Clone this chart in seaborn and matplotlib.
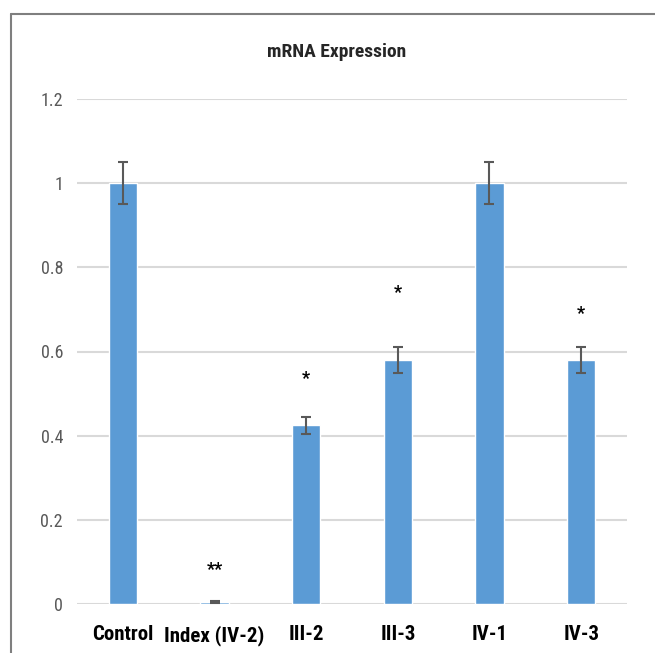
import matplotlib
matplotlib.use("Agg")
import matplotlib.pyplot as plt
from matplotlib.lines import Line2D
import seaborn as sns
import pandas as pd

categories = ["Control", "Index (IV-2)", "III-2", "III-3", "IV-1", "IV-3"]
values = [1.0, 0.005, 0.425, 0.58, 1.0, 0.58]
errors = [0.05, 0.002, 0.02, 0.03, 0.05, 0.03]
stars = ["", "**", "*", "*", "", "*"]
star_y = [None, 0.08, 0.535, 0.74, None, 0.69]
yticks = [0, 0.2, 0.4, 0.6, 0.8, 1, 1.2]
ytick_labels = ["0", "0.2", "0.4", "0.6", "0.8", "1", "1.2"]
title = "mRNA Expression"

sns.set_theme(style="white")
plt.rcParams["font.family"] = ["Roboto Condensed", "DejaVu Sans"]

df = pd.DataFrame({"cat": categories, "val": values})

fig = plt.figure(figsize=(6.55, 6.53), dpi=100)
ax = fig.add_axes([77/655, 1-604/653, 550/655, (604-99)/653])

sns.barplot(data=df, x="cat", y="val", color="#5B9BD5", saturation=1,
            width=0.31, ax=ax, errorbar=None, zorder=3)
ax.errorbar(range(len(categories)), values, yerr=errors, fmt="none",
            ecolor="#595959", elinewidth=1.5, capsize=3.3, capthick=1.5, zorder=4)

for i, (s, y) in enumerate(zip(stars, star_y)):
    if s:
        ax.text(i, y, s, ha="center", va="center", fontsize=13, fontweight="bold", color="black")

ax.set_ylim(0, 1.2)
ax.set_xlim(-0.5, len(categories) - 0.5)
ax.set_yticks(yticks)
ax.set_yticklabels(ytick_labels)
ax.yaxis.grid(True, color="#d9d9d9", linewidth=1.5, zorder=0)
ax.set_axisbelow(True)
for sp in ax.spines.values():
    sp.set_visible(False)
ax.tick_params(axis="y", length=0, pad=10, labelsize=13, labelcolor="#595959")
ax.tick_params(axis="x", length=0, pad=15, labelsize=15, labelcolor="black")
for lbl in ax.get_xticklabels():
    lbl.set_fontweight("bold")
ax.set_xlabel("")
ax.set_ylabel("")

fig.text(337/655, 1-52/653, title, ha="center", va="center", fontsize=14, fontweight="bold")

fig.add_artist(Line2D([11/655, 1], [1-14/653, 1-14/653], transform=fig.transFigure, color="#7f7f7f", lw=1.5))
fig.add_artist(Line2D([11/655, 11/655], [0, 1-14/653], transform=fig.transFigure, color="#7f7f7f", lw=1.5))

fig.savefig("out.png", dpi=100, facecolor="white")
